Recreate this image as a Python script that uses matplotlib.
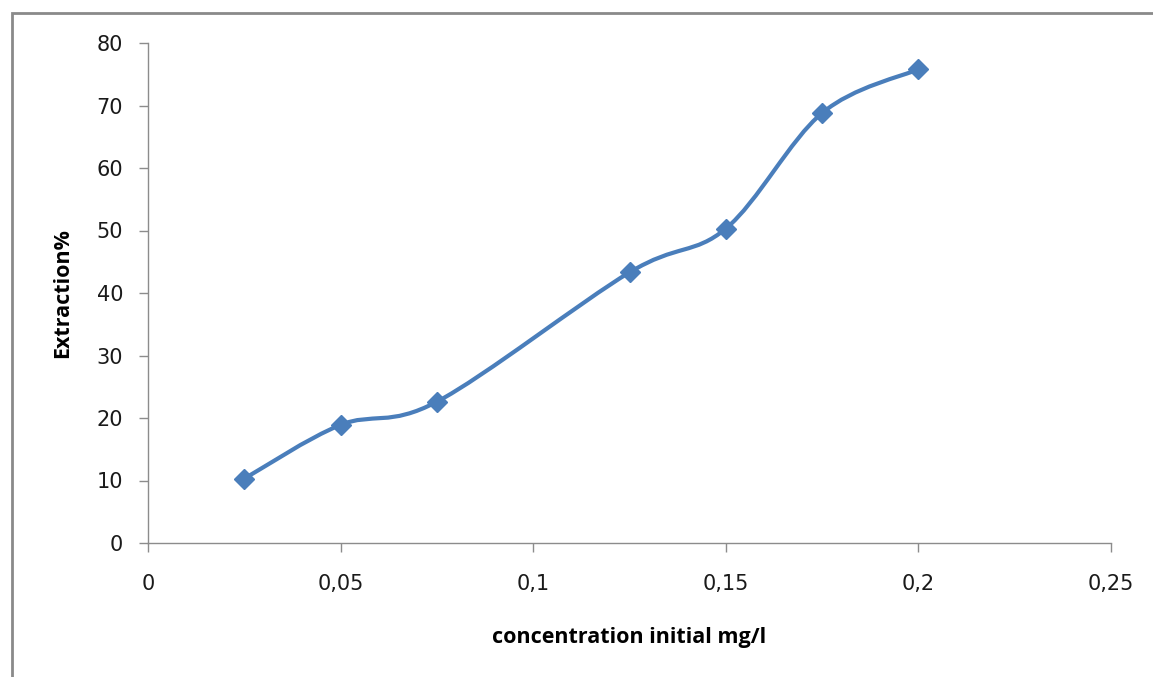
import matplotlib
matplotlib.use('Agg')
import matplotlib.pyplot as plt
from matplotlib.path import Path
from matplotlib.patches import PathPatch, Rectangle
from matplotlib.ticker import FuncFormatter, MultipleLocator

# data
conc = [0.025, 0.05, 0.075, 0.125, 0.15, 0.175, 0.2]
extraction = [10.3, 18.9, 22.6, 43.3, 50.3, 68.8, 75.8]

LINE_COLOR = '#4A7EBB'
AXIS_COLOR = '#8C8C8C'

plt.rcParams['font.family'] = ['DejaVu Sans']

fig = plt.figure(figsize=(11.53, 6.77), dpi=100)
ax = fig.add_axes([148 / 1153, 1 - 543 / 677, (1111 - 148) / 1153, 500 / 677])

# Excel-style smoothed line: cubic Bezier segments (Catmull-Rom control points)
pts = list(zip(conc, extraction))
ext = [pts[0]] + pts + [pts[-1]]
verts = [pts[0]]
codes = [Path.MOVETO]
for i in range(1, len(ext) - 2):
    p0, p1, p2, p3 = ext[i - 1], ext[i], ext[i + 1], ext[i + 2]
    c1 = (p1[0] + (p2[0] - p0[0]) / 6, p1[1] + (p2[1] - p0[1]) / 6)
    c2 = (p2[0] - (p3[0] - p1[0]) / 6, p2[1] - (p3[1] - p1[1]) / 6)
    verts += [c1, c2, p2]
    codes += [Path.CURVE4] * 3
ax.add_patch(PathPatch(Path(verts, codes), facecolor='none',
                       edgecolor=LINE_COLOR, linewidth=3.0,
                       capstyle='round', joinstyle='round'))
ax.plot(conc, extraction, linestyle='none', marker='D', markersize=10.5,
        color=LINE_COLOR, markeredgecolor=LINE_COLOR)

ax.set_xlim(0, 0.25)
ax.set_ylim(0, 80)
ax.xaxis.set_major_locator(MultipleLocator(0.05))
ax.yaxis.set_major_locator(MultipleLocator(10))
ax.xaxis.set_major_formatter(FuncFormatter(lambda v, p: ('%g' % round(v, 3)).replace('.', ',')))

for side in ['top', 'right']:
    ax.spines[side].set_visible(False)
for side in ['left', 'bottom']:
    ax.spines[side].set_color(AXIS_COLOR)
    ax.spines[side].set_linewidth(1.0)
ax.tick_params(axis='both', direction='out', length=6.5, width=1.0,
               color=AXIS_COLOR, labelsize=15, labelcolor='#1a1a1a')
ax.tick_params(axis='x', pad=16)
ax.tick_params(axis='y', pad=11.5)

label_font = dict(family=['Open Sans', 'DejaVu Sans'], size=15.5, weight='bold')
ax.set_xlabel('concentration initial mg/l', fontdict=label_font,
              va='center', ha='center')
ax.xaxis.set_label_coords(0.5, -0.19)
ax.set_ylabel('Extraction%', fontdict=label_font,
              va='center', ha='center')
ax.yaxis.set_label_coords(-0.089, 0.5)

# outer chart border (only top and left visible in the reference)
fig.add_artist(Rectangle((11.5 / 1153, -0.2), 1.2, 1.2 - 13 / 677,
                         transform=fig.transFigure, fill=False,
                         edgecolor='#8a8a8a', linewidth=2.0))

fig.savefig('out.png', dpi=100)
